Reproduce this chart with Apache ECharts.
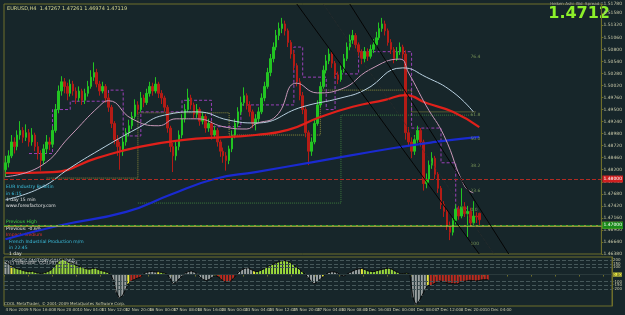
<!DOCTYPE html>
<html>
<head>
<meta charset="utf-8">
<script src="https://cdn.jsdelivr.net/npm/echarts@6.0.0/dist/echarts.min.js"></script>
<style>
  html, body { margin: 0; padding: 0; background: #17262a; }
  #chart { width: 625px; height: 315px; }
</style>
</head>
<body>
<div id="chart"></div>
<script>
// EURUSD H4, 4 Nov - 10 Dec 2009
const timeLabels = ['4 Nov 2009', '5 Nov 16:00', '8 Nov 20:00', '10 Nov 04:00', '11 Nov 12:00', '12 Nov 20:00',
  '16 Nov 00:00', '17 Nov 08:00', '18 Nov 16:00', '20 Nov 00:00', '23 Nov 04:00', '24 Nov 12:00', '25 Nov 20:00',
  '27 Nov 04:00', '30 Nov 08:00', '1 Dec 16:00', '3 Dec 00:00', '4 Dec 08:00', '7 Dec 12:00', '8 Dec 20:00', '10 Dec 04:00'];

const opens = [1.4820, 1.4835, 1.4850, 1.4880, 1.4870, 1.4895, 1.4905, 1.4890, 1.4900, 1.4880, 1.4895, 1.4870, 1.4855, 1.4840, 1.4865, 1.4880,
  1.4875, 1.4905, 1.4950, 1.4990, 1.5010, 1.5000, 1.4985, 1.5005, 1.4990, 1.4975, 1.4990, 1.4970, 1.4985, 1.5000, 1.5020, 1.5030,
  1.5005, 1.4990, 1.5000, 1.4975, 1.4955, 1.4920, 1.4885, 1.4870, 1.4860, 1.4880, 1.4900, 1.4915, 1.4935, 1.4960, 1.4950, 1.4975,
  1.4965, 1.4985, 1.5000, 1.4990, 1.5005, 1.4985, 1.4975, 1.4955, 1.4910, 1.4870, 1.4850, 1.4870, 1.4895, 1.4930, 1.4950, 1.4975,
  1.4960, 1.4940, 1.4950, 1.4925, 1.4935, 1.4910, 1.4920, 1.4895, 1.4905, 1.4880, 1.4860, 1.4850, 1.4840, 1.4865, 1.4895, 1.4920,
  1.4945, 1.4965, 1.4980, 1.4960, 1.4945, 1.4920, 1.4930, 1.4945, 1.4975, 1.5000, 1.5030, 1.5060, 1.5085, 1.5110, 1.5125, 1.5135,
  1.5120, 1.5095, 1.5070, 1.5045, 1.5010, 1.4980, 1.4950, 1.4900, 1.4860, 1.4880, 1.4920, 1.4960, 1.5000, 1.5035, 1.5055, 1.5070,
  1.5050, 1.5025, 1.5015, 1.5035, 1.5060, 1.5085, 1.5100, 1.5110, 1.5090, 1.5075, 1.5060, 1.5075, 1.5065, 1.5080, 1.5090, 1.5105,
  1.5125, 1.5135, 1.5120, 1.5095, 1.5080, 1.5060, 1.5075, 1.5085, 1.5070, 1.4900, 1.4880, 1.4860, 1.4885, 1.4905, 1.4880, 1.4790,
  1.4800, 1.4830, 1.4845, 1.4810, 1.4780, 1.4745, 1.4730, 1.4700, 1.4685, 1.4710, 1.4735, 1.4720, 1.4740, 1.4725, 1.4730, 1.4705,
  1.4720, 1.4726];
const highs = [1.4850, 1.4862, 1.4895, 1.4890, 1.4905, 1.4925, 1.4912, 1.4918, 1.4908, 1.4910, 1.4900, 1.4880, 1.4862, 1.4875, 1.4895, 1.4890,
  1.4915, 1.4962, 1.5002, 1.5022, 1.5018, 1.5008, 1.5015, 1.5012, 1.4998, 1.5000, 1.4995, 1.4995, 1.5012, 1.5035, 1.5052, 1.5038,
  1.5012, 1.5010, 1.5005, 1.4985, 1.4960, 1.4925, 1.4895, 1.4880, 1.4890, 1.4910, 1.4928, 1.4945, 1.4972, 1.4968, 1.4988, 1.4982,
  1.4995, 1.5010, 1.5008, 1.5020, 1.5010, 1.4992, 1.4980, 1.4960, 1.4915, 1.4878, 1.4880, 1.4905, 1.4940, 1.4962, 1.4995, 1.4982,
  1.4965, 1.4962, 1.4955, 1.4945, 1.4940, 1.4930, 1.4925, 1.4915, 1.4910, 1.4885, 1.4868, 1.4858, 1.4872, 1.4905, 1.4930, 1.4955,
  1.4978, 1.4998, 1.4985, 1.4968, 1.4950, 1.4940, 1.4955, 1.4985, 1.5010, 1.5040, 1.5070, 1.5095, 1.5122, 1.5138, 1.5148, 1.5142,
  1.5125, 1.5100, 1.5078, 1.5050, 1.5018, 1.4988, 1.4955, 1.4905, 1.4890, 1.4930, 1.4970, 1.5010, 1.5045, 1.5068, 1.5082, 1.5075,
  1.5055, 1.5032, 1.5045, 1.5070, 1.5095, 1.5112, 1.5122, 1.5115, 1.5095, 1.5080, 1.5085, 1.5082, 1.5090, 1.5102, 1.5118, 1.5138,
  1.5148, 1.5142, 1.5125, 1.5102, 1.5085, 1.5085, 1.5095, 1.5090, 1.5078, 1.4912, 1.4890, 1.4895, 1.4915, 1.4910, 1.4885, 1.4812,
  1.4840, 1.4858, 1.4850, 1.4815, 1.4785, 1.4752, 1.4735, 1.4708, 1.4718, 1.4745, 1.4742, 1.4780, 1.4750, 1.4742, 1.4738, 1.4752,
  1.4728, 1.4727];
const lows = [1.4805, 1.4825, 1.4845, 1.4855, 1.4862, 1.4885, 1.4878, 1.4882, 1.4870, 1.4872, 1.4860, 1.4842, 1.4818, 1.4832, 1.4855, 1.4862,
  1.4868, 1.4900, 1.4942, 1.4980, 1.4985, 1.4970, 1.4978, 1.4980, 1.4962, 1.4968, 1.4960, 1.4962, 1.4978, 1.4995, 1.5012, 1.4998,
  1.4980, 1.4985, 1.4965, 1.4945, 1.4910, 1.4875, 1.4850, 1.4820, 1.4850, 1.4872, 1.4892, 1.4908, 1.4930, 1.4940, 1.4945, 1.4955,
  1.4960, 1.4978, 1.4980, 1.4985, 1.4975, 1.4962, 1.4945, 1.4900, 1.4858, 1.4815, 1.4840, 1.4862, 1.4888, 1.4922, 1.4945, 1.4950,
  1.4930, 1.4932, 1.4915, 1.4918, 1.4900, 1.4902, 1.4885, 1.4888, 1.4870, 1.4848, 1.4835, 1.4818, 1.4832, 1.4858, 1.4888, 1.4912,
  1.4938, 1.4958, 1.4950, 1.4935, 1.4910, 1.4905, 1.4922, 1.4940, 1.4968, 1.4995, 1.5022, 1.5052, 1.5078, 1.5100, 1.5115, 1.5110,
  1.5085, 1.5060, 1.5035, 1.5000, 1.4970, 1.4940, 1.4890, 1.4830, 1.4850, 1.4875, 1.4915, 1.4955, 1.4995, 1.5028, 1.5048, 1.5040,
  1.5018, 1.5005, 1.5010, 1.5030, 1.5055, 1.5078, 1.5092, 1.5082, 1.5065, 1.5048, 1.5052, 1.5055, 1.5060, 1.5072, 1.5085, 1.5100,
  1.5118, 1.5110, 1.5088, 1.5070, 1.5050, 1.5055, 1.5068, 1.5060, 1.4885, 1.4870, 1.4845, 1.4852, 1.4878, 1.4870, 1.4775, 1.4780,
  1.4792, 1.4822, 1.4800, 1.4770, 1.4735, 1.4718, 1.4690, 1.4668, 1.4678, 1.4702, 1.4712, 1.4715, 1.4718, 1.4675, 1.4698, 1.4700,
  1.4705, 1.4697];
const closes = [1.4835, 1.4850, 1.4880, 1.4870, 1.4895, 1.4905, 1.4890, 1.4900, 1.4880, 1.4895, 1.4870, 1.4855, 1.4840, 1.4865, 1.4880, 1.4875,
  1.4905, 1.4950, 1.4990, 1.5010, 1.5000, 1.4985, 1.5005, 1.4990, 1.4975, 1.4990, 1.4970, 1.4985, 1.5000, 1.5020, 1.5030, 1.5005,
  1.4990, 1.5000, 1.4975, 1.4955, 1.4920, 1.4885, 1.4870, 1.4860, 1.4880, 1.4900, 1.4915, 1.4935, 1.4960, 1.4950, 1.4975, 1.4965,
  1.4985, 1.5000, 1.4990, 1.5005, 1.4985, 1.4975, 1.4955, 1.4910, 1.4870, 1.4850, 1.4870, 1.4895, 1.4930, 1.4950, 1.4975, 1.4960,
  1.4940, 1.4950, 1.4925, 1.4935, 1.4910, 1.4920, 1.4895, 1.4905, 1.4880, 1.4860, 1.4850, 1.4840, 1.4865, 1.4895, 1.4920, 1.4945,
  1.4965, 1.4980, 1.4960, 1.4945, 1.4920, 1.4930, 1.4945, 1.4975, 1.5000, 1.5030, 1.5060, 1.5085, 1.5110, 1.5125, 1.5135, 1.5120,
  1.5095, 1.5070, 1.5045, 1.5010, 1.4980, 1.4950, 1.4900, 1.4860, 1.4880, 1.4920, 1.4960, 1.5000, 1.5035, 1.5055, 1.5070, 1.5050,
  1.5025, 1.5015, 1.5035, 1.5060, 1.5085, 1.5100, 1.5110, 1.5090, 1.5075, 1.5060, 1.5075, 1.5065, 1.5080, 1.5090, 1.5105, 1.5125,
  1.5135, 1.5120, 1.5095, 1.5080, 1.5060, 1.5075, 1.5085, 1.5070, 1.4900, 1.4880, 1.4860, 1.4885, 1.4905, 1.4880, 1.4790, 1.4800,
  1.4830, 1.4845, 1.4810, 1.4780, 1.4745, 1.4730, 1.4700, 1.4685, 1.4710, 1.4735, 1.4720, 1.4740, 1.4725, 1.4730, 1.4705, 1.4720,
  1.4718, 1.4712];

// CCI(14) per bar
const cci = [180, 150, 120, 95, 80, 70, 55, 45, 40, 45, 30, 20, 15, 25, 40, 60,
  100, 150, 190, 215, 200, 170, 160, 140, 120, 110, 95, 80, 75, 85, 90, 70,
  55, 45, 30, 10, -80, -250, -330, -300, -220, -130, -90, -70, -50, -40, 10, 30,
  40, 45, 35, 40, 30, 20, 5, -60, -130, -110, -60, -20, 20, 40, 50, 35,
  15, -40, -70, -85, -70, -40, -15, -30, -70, -100, -110, -95, -60, -10, 40, 70,
  90, 95, 70, 50, 40, 55, 75, 100, 120, 140, 160, 175, 190, 195, 190, 170,
  140, 110, 80, 40, 10, -40, -90, -130, -110, -70, -30, 10, 30, 40, 35, 20,
  -10, -20, 5, 30, 50, 70, 80, 85, 70, 50, 45, 40, 55, 65, 75, 85,
  90, 75, 50, 30, 10, 15, 20, 5, -320, -420, -380, -300, -220, -150, -160, -130,
  -110, -90, -100, -110, -120, -125, -130, -130, -110, -95, -90, -80, -85, -90, -85, -75,
  -72, -71.7383];

// moving averages, read as [bar, price] knots
const maRed = [[0, 1.4813], [16, 1.4815], [31, 1.4845], [45, 1.4869], [60, 1.4884], [76, 1.4891], [85, 1.4895],
  [96, 1.4906], [107, 1.4934], [118, 1.4956], [129, 1.4971], [136, 1.4981], [143, 1.4964], [152, 1.4945], [161, 1.4912]];
const maBlue = [[0, 1.4670], [18, 1.4699], [41, 1.4729], [56, 1.4766], [71, 1.4800], [85, 1.4815], [105, 1.4837],
  [132, 1.4867], [146, 1.4880], [161, 1.4891]];
const maCyan = [[0, 1.4755], [12, 1.4781], [22, 1.4824], [32, 1.4863], [45, 1.4910], [54, 1.4938], [65, 1.4945],
  [76, 1.4927], [85, 1.4921], [101, 1.4956], [114, 1.4975], [122, 1.4992], [135, 1.5040], [143, 1.5020], [152, 1.4988], [159, 1.4945]];
const maPink = [[0, 1.4805], [12, 1.4828], [22, 1.4893], [32, 1.4958], [35, 1.4969], [43, 1.4930], [52, 1.4915], [58, 1.4930],
  [65, 1.4930], [74, 1.4913], [82, 1.4908], [85, 1.4919], [92, 1.4936], [99, 1.5007], [106, 1.4986], [114, 1.4994],
  [124, 1.5037], [134, 1.5059], [137, 1.5029], [143, 1.4958], [149, 1.4894], [156, 1.4785], [159, 1.4770]];
// dashed step channel (purple)
const stepLine = [[8, 1.4855], [16, 1.4855], [16, 1.4950], [22, 1.4950], [22, 1.4968], [35, 1.4968], [35, 1.4992],
  [40, 1.4992], [40, 1.4893], [46, 1.4893], [46, 1.4945], [60, 1.4945], [60, 1.4970], [70, 1.4970], [70, 1.4913],
  [80, 1.4913], [80, 1.4960], [98, 1.4960], [98, 1.5085], [101, 1.5085], [101, 1.5020], [109, 1.5020], [109, 1.4950],
  [112, 1.4950], [112, 1.5027], [120, 1.5027], [120, 1.5075], [138, 1.5075], [138, 1.4910], [148, 1.4910],
  [148, 1.4835], [153, 1.4835], [153, 1.4737], [157, 1.4737]];

// drawn objects
const trendA = [[99, 1.5178], [161, 1.4638]];
const trendB = [[117, 1.5178], [171, 1.4638]];
const trendC = [[108, 1.5178], [166, 1.4638]];
const weekBox = [[14, 1.4802], [45, 1.4802], [45, 1.4943], [76, 1.4943], [76, 1.4895], [107, 1.4895], [107, 1.4992],
  [138, 1.4992], [138, 1.4945], [160, 1.4945]];
const rangeBox = [[45, 1.4748], [114, 1.4748], [114, 1.4938], [158, 1.4938]];
const levelPrices = [1.4778, 1.4712, 1.4666];
const fibNames = ['76.4', '61.8', '50.0', '38.2', '23.6', '0.0', '100'];
const fibPrices = [1.5064, 1.4939, 1.4887, 1.4828, 1.4774, 1.4733, 1.4660];

const N = 203;
const categories = [];
for (let i = 0; i < N; i++) {
  categories.push(i % 8 === 0 && i / 8 < timeLabels.length ? timeLabels[i / 8] : '');
}

// Woodie style colouring: grey until a side holds 5 bars, 6th yellow, then green / red
let run = 3;
const cciBars = cci.map((v, i) => {
  if (i > 0 && (v >= 0) === (cci[i - 1] >= 0)) run++;
  else if (i > 0) run = 1;
  else run++;
  let c = '#9aa0a0';
  if (run === 6) c = '#e8e840';
  else if (run > 6) c = v >= 0 ? '#9ad83c' : '#c02a1e';
  return { value: v, itemStyle: { color: c } };
});

const olive = '#6e6e2a';
const txt = '#c8c8a8';
let myChart = echarts.init(document.getElementById('chart'));

const lineStyleOf = (color, width, type) => ({ color: color, width: width, type: type || 'solid' });

let option = {
  backgroundColor: '#17262a',
  animation: false,
  grid: [
    { left: 4, right: 13, top: 4, height: 250, show: true, borderColor: olive, borderWidth: 1 },
    { left: 4, right: 13, top: 257, height: 49, show: true, borderColor: olive, borderWidth: 1 }
  ],
  xAxis: [
    { type: 'category', data: categories, gridIndex: 0, boundaryGap: true,
      axisLine: { show: false }, axisTick: { show: false }, axisLabel: { show: false }, splitLine: { show: false } },
    { type: 'category', data: categories, gridIndex: 1, boundaryGap: true,
      axisLine: { lineStyle: { color: olive } },
      axisTick: { show: true, length: 2, interval: (i) => i % 8 === 0, lineStyle: { color: olive } },
      axisLabel: { interval: 0, fontSize: 4, color: txt, margin: 2, align: 'left', fontFamily: 'DejaVu Sans' },
      splitLine: { show: false } }
  ],
  yAxis: [
    { type: 'value', gridIndex: 0, position: 'right', min: 1.4638, max: 1.5178, interval: 0.0026,
      axisLine: { show: true, lineStyle: { color: olive } },
      axisTick: { show: true, length: 2, lineStyle: { color: olive } },
      axisLabel: { fontSize: 4.5, color: txt, margin: 2, fontFamily: 'DejaVu Sans', formatter: (v) => v.toFixed(5) },
      splitLine: { show: false } },
    { type: 'value', gridIndex: 1, position: 'right', min: -440.6, max: 246.094,
      axisLine: { show: true, lineStyle: { color: olive } },
      axisTick: { show: false }, axisLabel: { show: false }, splitLine: { show: false } }
  ],
  series: [
    { type: 'line', data: rangeBox, showSymbol: false, lineStyle: lineStyleOf('#3c7a3c', 1, 'dotted'), z: 1 },
    { type: 'line', data: weekBox, showSymbol: false, lineStyle: lineStyleOf('#8a8a3a', 1, 'dotted'), z: 1 },
    { type: 'line', data: stepLine, showSymbol: false, lineStyle: lineStyleOf('#9a40b8', 1, [3, 2]), z: 2 },
    {
      type: 'candlestick', name: 'EURUSD,H4',
      data: opens.map((o, i) => [o, closes[i], lows[i], highs[i]]),
      barWidth: 2,
      itemStyle: { color: '#22c422', color0: '#b41c16', borderColor: '#22c422', borderColor0: '#b41c16', borderWidth: 1 },
      z: 3,
      markLine: {
        symbol: ['none', 'none'], silent: true,
        label: { position: 'end', fontSize: 4.5, distance: 1, padding: [1, 1], fontFamily: 'DejaVu Sans',
          formatter: (p) => p.value.toFixed(5) },
        data: [
          { yAxis: levelPrices[0], lineStyle: lineStyleOf('#b02a22', 1, 'dashed'),
            label: { backgroundColor: '#d02020', color: '#ffffff' } },
          { yAxis: levelPrices[1], lineStyle: lineStyleOf('#b8b840', 1.5),
            label: { backgroundColor: '#e8e840', color: '#202020' } },
          { yAxis: levelPrices[2], lineStyle: lineStyleOf('#2a8a2a', 1, 'dashed'),
            label: { backgroundColor: '#1a8a1a', color: '#ffffff' } }
        ]
      }
    },
    { type: 'line', data: maBlue, smooth: true, showSymbol: false, lineStyle: lineStyleOf('#1a2ad0', 2.2), z: 4 },
    { type: 'line', data: maRed, smooth: true, showSymbol: false, lineStyle: lineStyleOf('#e0201a', 2.2), z: 4 },
    { type: 'line', data: maCyan, smooth: true, showSymbol: false, lineStyle: lineStyleOf('#b8d0e0', 1), z: 4 },
    { type: 'line', data: maPink, smooth: true, showSymbol: false, lineStyle: lineStyleOf('#c898b8', 1), z: 4 },
    { type: 'line', data: trendA, showSymbol: false, lineStyle: lineStyleOf('#050505', 1), z: 5 },
    { type: 'line', data: trendB, showSymbol: false, lineStyle: lineStyleOf('#050505', 1), z: 5 },
    { type: 'line', data: trendC, showSymbol: false, lineStyle: lineStyleOf('#303030', 0.8, 'dotted'), z: 5 },
    {
      type: 'scatter', symbolSize: 0, z: 6,
      data: fibPrices.map((p, i) => ({ value: [158, p], name: fibNames[i] })),
      label: { show: true, position: 'right', fontSize: 4.5, distance: 0, fontFamily: 'DejaVu Sans',
        color: '#8aa860', formatter: (p) => p.name }
    },
    {
      type: 'bar', xAxisIndex: 1, yAxisIndex: 1, data: cciBars, barWidth: 2, z: 2,
      markLine: {
        symbol: ['none', 'none'], silent: true,
        lineStyle: { color: '#46585a', type: 'dashed', width: 1 },
        label: { position: 'end', fontSize: 4, distance: 1, color: txt, fontFamily: 'DejaVu Sans' },
        data: [
          { yAxis: 200 }, { yAxis: 150 }, { yAxis: 100 },
          { yAxis: 0, lineStyle: { color: '#2a3a3c', type: 'solid' },
            label: { backgroundColor: '#e8e840', color: '#202020', formatter: '0.00' } },
          { yAxis: -100 }, { yAxis: -150 }, { yAxis: -200 },
          { yAxis: 246.094, lineStyle: { opacity: 0 } },
          { yAxis: -440.6, lineStyle: { opacity: 0 } }
        ]
      }
    },
    { type: 'line', xAxisIndex: 1, yAxisIndex: 1, data: cci, showSymbol: false,
      lineStyle: lineStyleOf('#0a0a0a', 1), z: 3 }
  ],
  graphic: [
    { type: 'text', left: 7, top: 6, style: { text: 'EURUSD,H4  1.47267 1.47261 1.46974 1.47119', fontSize: 5, fill: '#d8d890', fontFamily: 'DejaVu Sans' } },
    { type: 'text', right: 22, top: 2, style: { text: 'Heiken Ashi  Bid  Spread 2', fontSize: 4, fill: '#a0a0a0', fontFamily: 'DejaVu Sans' } },
    { type: 'text', right: 15, top: 6, style: { text: '1.4712', fontSize: 16, fontWeight: 'bold', fill: '#8cf02a', fontFamily: 'DejaVu Sans' } },
    { type: 'text', left: 6, top: 184, style: { text: 'EUR Industry Bulletin', fontSize: 4.5, fill: '#3cc0e0', fontFamily: 'DejaVu Sans' } },
    { type: 'text', left: 6, top: 191, style: { text: 'in 6:15', fontSize: 4.5, fill: '#3cc0e0', fontFamily: 'DejaVu Sans' } },
    { type: 'text', left: 6, top: 197, style: { text: '1 day 15 min', fontSize: 4.5, fill: '#e0e0e0', fontFamily: 'DejaVu Sans' } },
    { type: 'text', left: 6, top: 203, style: { text: 'www.forexfactory.com', fontSize: 4.5, fill: '#e0e0e0', fontFamily: 'DejaVu Sans' } },
    { type: 'text', left: 6, top: 219, style: { text: 'Previous High', fontSize: 4.5, fill: '#40d040', fontFamily: 'DejaVu Sans' } },
    { type: 'text', left: 6, top: 226, style: { text: 'Previous: -0.6%', fontSize: 4.5, fill: '#e0e0e0', fontFamily: 'DejaVu Sans' } },
    { type: 'text', left: 6, top: 232, style: { text: 'Impact: Medium', fontSize: 4.5, fill: '#e03030', fontFamily: 'DejaVu Sans' } },
    { type: 'text', left: 9, top: 239, style: { text: 'French Industrial Production m/m', fontSize: 4.5, fill: '#3cc0e0', fontFamily: 'DejaVu Sans' } },
    { type: 'text', left: 9, top: 245, style: { text: 'in 22:45', fontSize: 4.5, fill: '#3cc0e0', fontFamily: 'DejaVu Sans' } },
    { type: 'text', left: 9, top: 251, style: { text: '1 day', fontSize: 4.5, fill: '#e0e0e0', fontFamily: 'DejaVu Sans' } },
    { type: 'text', left: 12, top: 258, style: { text: 'FOREX FACTORY CALENDAR', fontSize: 4.5, fill: '#e0e0e0', fontFamily: 'DejaVu Sans' } },
    { type: 'text', left: 6, top: 260, style: { text: 'DTT Indicator  CCI(14) -71.7383', fontSize: 4.5, fill: '#c8c8c8', fontFamily: 'DejaVu Sans' } },
    { type: 'text', left: 4, top: 302, style: { text: 'COOL MetaTrader, \u00a9 2001-2009 MetaQuotes Software Corp.', fontSize: 4, fill: '#c8c8a0', fontFamily: 'DejaVu Sans' } }
  ]
};
myChart.setOption(option);
</script>
</body>
</html>
